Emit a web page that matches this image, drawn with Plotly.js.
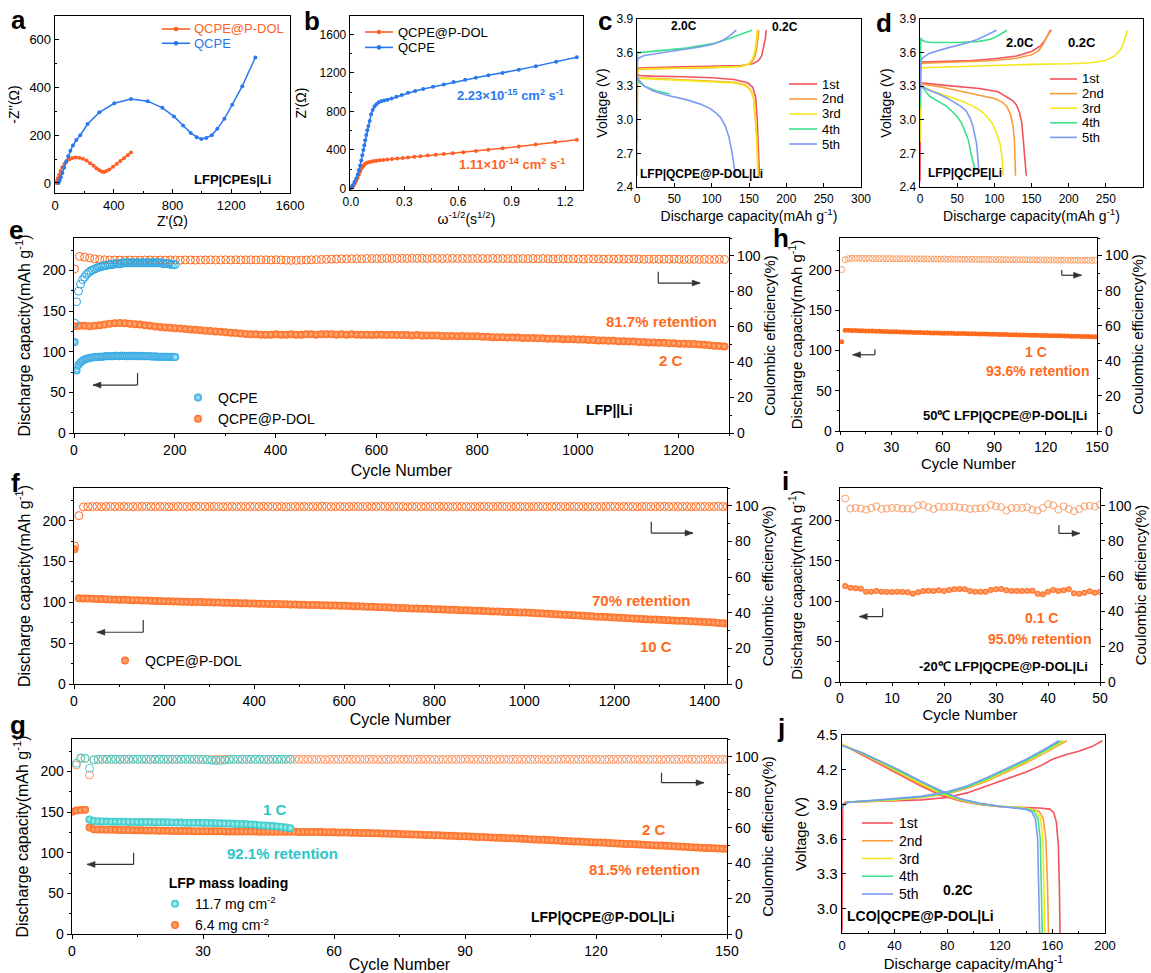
<!DOCTYPE html>
<html><head><meta charset="utf-8">
<script src="https://cdn.plot.ly/plotly-3.0.1.min.js"></script>
<style>html,body{margin:0;padding:0;background:#fff}#chart{width:1151px;height:973px}</style>
</head><body><div id="chart"></div>
<script>
// ================= DATA =================
// a: Nyquist plot
const aPdolZre = [10, 14, 20, 28, 38, 50, 64, 80, 98, 118, 140, 165, 190, 215, 240, 262, 282, 300, 318, 334, 350, 370, 395, 420, 445, 470, 495, 517];
const aPdolZim = [0, 8, 20, 34, 50, 66, 80, 92, 100, 105, 107, 106, 102, 94, 83, 72, 62, 54, 48, 46, 50, 57, 68, 80, 92, 104, 116, 128];
const aQcpeZre = [25, 32, 40, 50, 62, 75, 90, 105, 122, 145, 172, 222, 302, 404, 517, 631, 731, 810, 872, 924, 965, 996, 1030, 1067, 1105, 1153, 1207, 1275, 1364];
const aQcpeZim = [0, 10, 24, 42, 64, 88, 112, 135, 157, 180, 200, 247, 296, 334, 352, 343, 315, 279, 241, 210, 192, 184, 189, 200, 227, 269, 328, 406, 526];
// b: Z' vs omega^-1/2
const bPdolW = [0, 0.008, 0.015, 0.022, 0.03, 0.038, 0.045, 0.052, 0.06, 0.068, 0.076, 0.085, 0.095, 0.105, 0.117, 0.13, 0.145, 0.162, 0.182, 0.205, 0.23, 0.26, 0.29, 0.32, 0.355, 0.39, 0.43, 0.475, 0.52, 0.57, 0.63, 0.7, 0.77, 0.85, 0.94, 1.035, 1.145, 1.265];
const bPdolZ = [5, 15, 30, 52, 80, 112, 145, 178, 208, 232, 250, 262, 270, 276, 281, 285, 289, 293, 297, 301, 306, 311, 317, 323, 329, 336, 343, 351, 359, 367, 377, 390, 403, 418, 436, 458, 483, 505];
const bQcpeW = [0, 0.01, 0.02, 0.03, 0.038, 0.045, 0.052, 0.058, 0.064, 0.07, 0.075, 0.08, 0.086, 0.092, 0.098, 0.105, 0.113, 0.122, 0.132, 0.143, 0.156, 0.17, 0.186, 0.205, 0.228, 0.255, 0.285, 0.32, 0.36, 0.405, 0.46, 0.52, 0.575, 0.64, 0.7, 0.77, 0.849, 0.94, 1.036, 1.15, 1.265];
const bQcpeZ = [10, 35, 68, 105, 145, 190, 240, 290, 345, 400, 450, 500, 555, 605, 650, 700, 770, 815, 850, 875, 895, 905, 913, 922, 935, 952, 970, 993, 1012, 1032, 1055, 1080, 1105, 1128, 1150, 1175, 1200, 1232, 1270, 1315, 1362];
// cycle names / colours for voltage profiles
const cycleNames = ['1st', '2nd', '3rd', '4th', '5th'];
const cycleColors = ['#f4525c', '#f89c3a', '#f2e81c', '#3ee08c', '#7d9af2'];
// c: LFP|QCPE@P-DOL|Li
const cChgCap = [
  [0, 0.5, 2, 10, 50, 100, 140, 155, 163, 167, 170, 172, 173],
  [0, 0.5, 2, 10, 50, 100, 140, 152, 157, 160, 162, 163],
  [0, 0.5, 2, 10, 50, 100, 140, 150, 155, 158, 160, 161],
  [0, 0.5, 3, 10, 30, 66, 102, 124, 142, 154],
  [0, 0.5, 2, 10, 44, 80, 102, 115, 124, 133]];
const cChgV = [
  [2.5, 3.43, 3.46, 3.465, 3.47, 3.475, 3.485, 3.5, 3.53, 3.57, 3.65, 3.73, 3.8],
  [2.5, 3.42, 3.45, 3.455, 3.46, 3.465, 3.48, 3.5, 3.55, 3.62, 3.72, 3.8],
  [2.5, 3.42, 3.45, 3.455, 3.46, 3.465, 3.475, 3.5, 3.55, 3.62, 3.72, 3.8],
  [2.8, 3.6, 3.6, 3.605, 3.615, 3.64, 3.68, 3.725, 3.77, 3.8],
  [3.35, 3.52, 3.55, 3.575, 3.61, 3.645, 3.675, 3.71, 3.75, 3.8]];
const cDisCap = [
  [0, 1, 5, 20, 60, 100, 130, 148, 155, 159, 161, 162.5, 163.5, 164],
  [0, 1, 5, 20, 60, 100, 130, 145, 152, 156, 159, 161, 162, 162.5],
  [0, 1, 5, 20, 60, 100, 130, 145, 152, 156, 159, 160.5, 161.5, 162],
  [0, 2, 10, 25, 44],
  [0, 2, 10, 21, 40, 66, 85, 98, 106, 112, 118, 123, 127, 130, 132]];
const cDisV = [
  [3.42, 3.4, 3.395, 3.39, 3.385, 3.375, 3.36, 3.33, 3.29, 3.2, 3.0, 2.8, 2.6, 2.5],
  [3.4, 3.38, 3.375, 3.37, 3.36, 3.35, 3.335, 3.31, 3.27, 3.2, 3.0, 2.8, 2.6, 2.5],
  [3.39, 3.375, 3.37, 3.365, 3.355, 3.345, 3.33, 3.305, 3.265, 3.2, 3.0, 2.8, 2.6, 2.5],
  [3.37, 3.34, 3.3, 3.26, 3.23],
  [3.4, 3.36, 3.3, 3.26, 3.22, 3.18, 3.14, 3.1, 3.06, 3.02, 2.95, 2.85, 2.72, 2.6, 2.5]];
// d: LFP|QCPE|Li
const dChgCap = [
  [0, 1, 3, 30, 70, 100, 130, 150, 162, 168, 172, 175, 177],
  [0, 1, 3, 30, 70, 100, 130, 150, 160, 166, 170, 173, 175],
  [0, 1, 3, 50, 100, 150, 200, 230, 250, 262, 270, 275, 279],
  [0, 1, 3, 8, 20, 50, 80, 95, 105, 112, 117],
  [0, 1, 3, 13, 36, 63, 78, 90, 98, 103]];
const dChgV = [
  [2.45, 3.5, 3.515, 3.52, 3.53, 3.545, 3.57, 3.61, 3.66, 3.71, 3.76, 3.79, 3.8],
  [3.0, 3.49, 3.505, 3.51, 3.52, 3.53, 3.55, 3.58, 3.62, 3.68, 3.74, 3.78, 3.8],
  [2.8, 3.45, 3.465, 3.475, 3.485, 3.495, 3.5, 3.51, 3.53, 3.57, 3.63, 3.71, 3.8],
  [3.1, 3.73, 3.71, 3.695, 3.69, 3.69, 3.7, 3.72, 3.75, 3.78, 3.8],
  [3.2, 3.52, 3.55, 3.595, 3.64, 3.685, 3.72, 3.76, 3.785, 3.8]];
const dDisCap = [
  [0, 2, 30, 80, 105, 116, 125, 130, 134, 137, 140, 142, 143],
  [0, 2, 30, 60, 80, 100, 110, 117, 122, 125, 127, 128, 128.5],
  [0, 2, 15, 36, 55, 72, 82, 90, 97, 103, 108, 110.5, 112],
  [0, 2, 8, 13, 25, 36, 44, 50, 56, 61, 65, 68, 71, 74],
  [0, 2, 10, 22, 35, 45, 55, 62, 67, 71, 74, 76, 78, 79]];
const dDisV = [
  [3.34, 3.33, 3.31, 3.28, 3.25, 3.21, 3.17, 3.13, 3.06, 2.97, 2.76, 2.6, 2.5],
  [3.33, 3.32, 3.29, 3.25, 3.22, 3.19, 3.16, 3.12, 3.04, 2.95, 2.82, 2.65, 2.5],
  [3.32, 3.3, 3.26, 3.21, 3.17, 3.12, 3.08, 3.03, 2.97, 2.88, 2.78, 2.65, 2.5],
  [3.32, 3.3, 3.25, 3.21, 3.16, 3.12, 3.07, 3.03, 2.97, 2.89, 2.82, 2.72, 2.62, 2.55],
  [3.32, 3.3, 3.27, 3.24, 3.2, 3.16, 3.12, 3.08, 3.02, 2.95, 2.87, 2.79, 2.65, 2.55]];
// j: LCO|QCPE@P-DOL|Li
const jChgCap = [
  [0, 0.5, 3, 20, 40, 60, 80, 95, 110, 125, 140, 152, 160, 170, 180, 190, 198],
  [0, 1, 5, 20, 40, 60, 80, 95, 110, 125, 140, 155, 165, 171],
  [0, 1, 5, 20, 40, 60, 80, 95, 110, 125, 140, 155, 163, 169],
  [0, 1, 5, 20, 40, 60, 80, 95, 110, 125, 140, 155, 162, 167],
  [0, 1, 5, 20, 40, 60, 80, 95, 110, 125, 140, 153, 160, 165]];
const jChgV = [
  [2.8, 3.9, 3.92, 3.925, 3.93, 3.94, 3.96, 4.0, 4.06, 4.12, 4.18, 4.24, 4.29, 4.33, 4.36, 4.4, 4.45],
  [3.86, 3.89, 3.92, 3.93, 3.94, 3.96, 3.99, 4.04, 4.1, 4.18, 4.26, 4.35, 4.41, 4.45],
  [3.86, 3.89, 3.92, 3.93, 3.94, 3.96, 4.0, 4.05, 4.11, 4.19, 4.27, 4.36, 4.41, 4.45],
  [3.86, 3.89, 3.92, 3.93, 3.945, 3.965, 4.0, 4.05, 4.12, 4.2, 4.28, 4.37, 4.42, 4.45],
  [3.86, 3.89, 3.92, 3.935, 3.95, 3.97, 4.01, 4.06, 4.13, 4.21, 4.29, 4.37, 4.42, 4.45]];
const jDisCap = [
  [0, 5, 15, 30, 45, 60, 75, 90, 105, 120, 135, 150, 158, 161, 163, 164.5, 165.3, 165.8],
  [0, 5, 15, 30, 45, 60, 75, 90, 105, 120, 135, 145, 150, 153, 155, 156.3, 157],
  [0, 5, 15, 30, 45, 60, 75, 90, 105, 120, 135, 143, 148, 151, 152.8, 153.8, 154.3],
  [0, 5, 15, 30, 45, 60, 75, 90, 105, 120, 135, 141, 146, 149, 150.8, 151.8, 152.3],
  [0, 5, 15, 30, 45, 60, 75, 90, 105, 120, 132, 139, 144, 147, 148.8, 149.8, 150.3]];
const jDisV = [
  [4.42, 4.39, 4.33, 4.24, 4.15, 4.06, 3.98, 3.93, 3.9, 3.88, 3.875, 3.87, 3.86, 3.83, 3.75, 3.55, 3.2, 2.79],
  [4.42, 4.39, 4.34, 4.25, 4.16, 4.07, 3.99, 3.935, 3.9, 3.885, 3.875, 3.86, 3.84, 3.78, 3.6, 3.2, 2.79],
  [4.42, 4.395, 4.345, 4.26, 4.17, 4.08, 4.0, 3.94, 3.905, 3.885, 3.875, 3.86, 3.84, 3.78, 3.6, 3.2, 2.79],
  [4.41, 4.39, 4.345, 4.265, 4.18, 4.09, 4.01, 3.945, 3.905, 3.885, 3.87, 3.86, 3.84, 3.78, 3.6, 3.2, 2.79],
  [4.41, 4.39, 4.35, 4.27, 4.19, 4.1, 4.02, 3.95, 3.91, 3.885, 3.87, 3.86, 3.84, 3.78, 3.6, 3.2, 2.79]];

// e: LFP||Li at 2 C (sampled: QCPE every 4 cycles from 1, QCPE@P-DOL every 10 cycles from 1)
const eQcpeFirst = 1, eQcpeStep = 4;
const eQcpeCap = [112, 77, 84, 87, 89, 90.5, 91.5, 92, 92.5, 93, 93.5, 93.5, 94, 94, 94, 94.5, 94.5, 94.5, 94.5, 94.5,
  95, 95, 94.5, 95, 95, 95, 94.5, 95, 95, 94.5, 95, 94.5, 94.5, 95, 94.5, 94.5, 94.5, 94.5, 94.5, 94,
  94.5, 94, 94, 94, 94, 94, 94, 93.5, 94, 93.5, 93.5];
const eQcpeCE = [62, 74, 80, 84, 86.5, 88, 89.5, 90.5, 91.5, 92, 92.5, 93, 93.5, 94, 94, 94.5, 94.5, 95, 95, 95,
  95.5, 95.5, 95.5, 95.5, 96, 96, 96, 96, 96, 96, 96, 96, 96, 96, 96, 96, 96, 96, 96, 96,
  96, 96, 96, 96, 95.5, 95.5, 95.5, 95.5, 95, 95, 95];
const ePdolFirst = 1, ePdolStep = 10;
const ePdolCap = [131.5, 132, 132, 131.5, 132, 132.5, 133.5, 134.5, 135, 135.5,
  135, 134.5, 134, 133.5, 132.5, 132, 131, 130.5, 130, 129.5,
  129, 128.5, 128, 127.5, 127, 126.5, 126, 125.5, 125, 124.5,
  124, 123.5, 123, 122.5, 122, 121.5, 121.5, 121, 121, 121,
  121.5, 121, 121, 121.5, 121, 121, 121.5, 121.5, 121, 121.5,
  121.5, 121.5, 121, 121.5, 121, 121.5, 121, 121, 121, 120.5,
  121, 121, 120.5, 121, 120.5, 120.5, 120.5, 120, 120.5, 120,
  120, 120, 120, 119.5, 119.5, 119.5, 119, 119.5, 119, 119,
  119, 118.5, 118.5, 118, 118, 118, 117.5, 117.5, 117.5, 117,
  117, 117, 116.5, 116.5, 116, 116, 116, 115.5, 115.5, 115.5,
  115, 115, 114.5, 114.5, 114, 114, 113.5, 113.5, 113, 113,
  112.5, 112.5, 112, 112, 111.5, 111.5, 111, 111, 110.5, 110.5,
  110, 110, 109.5, 109.5, 109, 108.5, 108, 107.5, 107, 106.5];
const ePdolCE = [92.5, 99.6, 99.2, 98.7, 98.2, 97.8, 97.7, 97.6, 97.6, 97.5,
  97.5, 97.6, 97.5, 97.5, 97.6, 97.6, 97.5, 97.6, 97.5, 97.6,
  97.6, 97.5, 97.6, 97.6, 97.5, 97.6, 97.6, 97.7, 97.6, 97.6,
  97.7, 97.6, 97.7, 97.6, 97.7, 97.7, 97.6, 97.7, 97.7, 97.6,
  97.7, 97.6, 97.5, 97.4, 97.4, 97.5, 97.6, 97.7, 97.8, 97.9,
  98.0, 98.1, 98.1, 98.2, 98.2, 98.3, 98.3, 98.3, 98.4, 98.4,
  98.4, 98.4, 98.5, 98.4, 98.5, 98.5, 98.4, 98.5, 98.5, 98.5,
  98.4, 98.5, 98.5, 98.4, 98.5, 98.5, 98.4, 98.5, 98.4, 98.4,
  98.5, 98.4, 98.4, 98.5, 98.4, 98.4, 98.4, 98.3, 98.4, 98.4,
  98.3, 98.4, 98.3, 98.4, 98.3, 98.2, 98.3, 98.3, 98.2, 98.3,
  98.2, 98.2, 98.3, 98.2, 98.2, 98.1, 98.2, 98.1, 98.2, 98.1,
  98.1, 98.2, 98.1, 98.0, 98.1, 98.1, 98.0, 98.1, 98.0, 98.1,
  98.0, 97.9, 98.0, 98.0, 97.9, 98.0, 97.9, 97.9, 98.0, 97.9];

// f: 10 C long cycling (every 10 cycles from 1)
const fFirst = 1, fStep = 10;
const fCap = [165, 105.0, 104.8, 104.6, 104.4, 104.2, 104.0, 103.8, 103.6, 103.4,
  103.3, 103.1, 102.9, 102.7, 102.5, 102.3, 102.1, 101.9, 101.7, 101.5,
  101.4, 101.2, 101.1, 101.0, 100.8, 100.7, 100.5, 100.4, 100.3, 100.1,
  100.0, 99.8, 99.7, 99.5, 99.4, 99.3, 99.1, 99.0, 98.8, 98.7,
  98.6, 98.4, 98.3, 98.1, 98.0, 97.9, 97.7, 97.6, 97.4, 97.3,
  97.1, 97.0, 96.8, 96.7, 96.6, 96.4, 96.3, 96.1, 96.0, 95.8,
  95.7, 95.5, 95.3, 95.1, 94.9, 94.7, 94.5, 94.3, 94.1, 93.9,
  93.7, 93.5, 93.2, 93.0, 92.8, 92.6, 92.4, 92.2, 92.0, 91.8,
  91.6, 91.4, 91.2, 91.0, 90.8, 90.6, 90.4, 90.2, 90.0, 89.8,
  89.6, 89.3, 89.1, 88.9, 88.7, 88.5, 88.3, 88.1, 87.9, 87.7,
  87.5, 87.2, 86.9, 86.6, 86.3, 86.0, 85.6, 85.3, 85.0, 84.7,
  84.4, 84.1, 83.8, 83.5, 83.2, 82.9, 82.5, 82.2, 81.9, 81.6,
  81.3, 81.0, 80.8, 80.5, 80.2, 80.0, 79.7, 79.4, 79.1, 78.9,
  78.6, 78.3, 78.1, 77.8, 77.5, 77.3, 77.0, 76.7, 76.5, 76.2,
  76.0, 75.6, 75.2, 74.8, 74.4, 74.0];
const fCE = [77.5, 94.5, 99.4, 99.5, 99.6, 99.6, 99.5, 99.6, 99.6, 99.6,
  99.6, 99.6, 99.5, 99.6, 99.6, 99.6, 99.7, 99.6, 99.6, 99.6,
  99.6, 99.5, 99.6, 99.6, 99.6, 99.6, 99.6, 99.7, 99.6, 99.6,
  99.6, 99.6, 99.6, 99.5, 99.6, 99.6, 99.6, 99.6, 99.6, 99.6,
  99.6, 99.6, 99.7, 99.6, 99.6, 99.6, 99.6, 99.5, 99.6, 99.6,
  99.6, 99.6, 99.6, 99.6, 99.6, 99.7, 99.6, 99.6, 99.6, 99.6,
  99.5, 99.6, 99.6, 99.6, 99.6, 99.6, 99.6, 99.6, 99.7, 99.6,
  99.6, 99.6, 99.6, 99.6, 99.5, 99.6, 99.6, 99.6, 99.6, 99.6,
  99.6, 99.7, 99.6, 99.6, 99.6, 99.6, 99.6, 99.6, 99.5, 99.6,
  99.6, 99.6, 99.6, 99.6, 99.7, 99.6, 99.6, 99.6, 99.6, 99.6,
  99.6, 99.5, 99.6, 99.6, 99.6, 99.6, 99.6, 99.7, 99.6, 99.6,
  99.6, 99.6, 99.6, 99.6, 99.5, 99.6, 99.6, 99.6, 99.6, 99.7,
  99.6, 99.6, 99.6, 99.6, 99.6, 99.5, 99.6, 99.6, 99.6, 99.6,
  99.6, 99.7, 99.6, 99.6, 99.6, 99.6, 99.6, 99.5, 99.6, 99.6,
  99.6, 99.6, 99.6, 99.7, 99.6, 99.6];

// g: mass loading comparison (every cycle)
const gLowFirst = 0;
const gLowCap = [150.5, 152, 152.5, 153,
  131.0, 129.0, 128.7, 128.5, 128.4, 128.3, 128.2, 128.1, 128.0, 127.9,
  127.8, 127.7, 127.6, 127.5, 127.4, 127.3, 127.2, 127.1, 127.0, 126.9,
  126.9, 126.8, 126.7, 126.7, 126.6, 126.5, 126.5, 126.5, 126.4, 126.4,
  126.4, 126.3, 126.3, 126.3, 126.2, 126.2, 126.2, 126.1, 126.1, 126.0,
  126.0, 126.0, 125.9, 125.9, 125.8, 125.8, 125.7, 125.7, 125.6, 125.6,
  125.5, 125.5, 125.4, 125.4, 125.3, 125.2, 125.1, 125.0, 124.9, 124.8,
  124.7, 124.6, 124.4, 124.3, 124.2, 124.0, 123.9, 123.7, 123.6, 123.4,
  123.3, 123.1, 122.9, 122.8, 122.6, 122.4, 122.2, 122.0, 121.8, 121.6,
  121.4, 121.2, 121.0, 120.8, 120.6, 120.4, 120.2, 120.0, 119.8, 119.5,
  119.3, 119.1, 118.9, 118.6, 118.4, 118.2, 117.9, 117.7, 117.4, 117.2,
  116.9, 116.6, 116.4, 116.1, 115.9, 115.6, 115.3, 115.1, 114.8, 114.6,
  114.3, 114.0, 113.8, 113.5, 113.3, 113.0, 112.7, 112.5, 112.2, 112.0,
  111.7, 111.4, 111.2, 110.9, 110.7, 110.4, 110.1, 109.8, 109.6, 109.3,
  109.0, 108.8, 108.5, 108.2, 108.0, 107.7, 107.4, 107.1, 106.9, 106.6,
  106.3, 106.0, 105.8, 105.5, 105.2, 105.0, 104.8];
const gLowCE = [95.3, 99.0, 99.0, 89.7, 98.2, 98.4, 98.5, 98.5, 98.5, 98.5,
  98.5, 98.5, 98.5, 98.6, 98.5, 98.5, 98.5, 98.5, 98.4, 98.5,
  98.5, 98.5, 98.5, 98.5, 98.5, 98.6, 98.5, 98.5, 98.5, 98.5,
  98.5, 98.4, 98.5, 98.5, 98.6, 98.5, 98.5, 98.5, 98.5, 98.5,
  98.5, 98.5, 98.5, 98.5, 98.4, 98.5, 98.5, 98.5, 98.5, 98.6,
  98.5, 98.5, 98.5, 98.5, 98.5, 98.5, 98.5, 98.4, 98.5, 98.5,
  98.5, 98.5, 98.6, 98.5, 98.5, 98.5, 98.5, 98.5, 98.5, 98.5,
  98.4, 98.5, 98.5, 98.5, 98.5, 98.5, 98.6, 98.5, 98.5, 98.5,
  98.5, 98.5, 98.5, 98.4, 98.5, 98.5, 98.5, 98.5, 98.5, 98.6,
  98.5, 98.5, 98.5, 98.5, 98.5, 98.5, 98.4, 98.5, 98.6, 98.5,
  98.5, 98.5, 98.5, 98.5, 98.5, 98.5, 98.5, 98.5, 98.4, 98.5,
  98.5, 98.5, 98.6, 98.5, 98.5, 98.5, 98.5, 98.5, 98.5, 98.5,
  98.5, 98.4, 98.5, 98.5, 98.5, 98.5, 98.6, 98.5, 98.5, 98.5,
  98.5, 98.5, 98.5, 98.5, 98.4, 98.5, 98.5, 98.5, 98.5, 98.5,
  98.6, 98.5, 98.5, 98.5, 98.5, 98.5, 98.5, 98.4, 98.5, 98.5];
const gHighFirst = 4;
const gHighCap = [141, 139, 138.7, 138.5, 138.4, 138.3, 138.3, 138.2, 138.1, 138,
  138, 137.9, 137.8, 137.8, 137.7, 137.6, 137.5, 137.5, 137.4, 137.3,
  137.2, 137.1, 137, 137, 136.9, 136.8, 136.7, 136.6, 136.5, 136.4,
  136.2, 136, 135.9, 135.7, 135.5, 135.3, 135.0, 134.7, 134.4, 134.0,
  133.6, 133.2, 132.8, 132.3, 131.8, 131.0, 130.2];
const gHighCE = [96.3, 99.4, 99.1, 93.5, 98.4, 98.6, 98.6, 98.6, 98.6, 98.6,
  98.6, 98.6, 98.6, 98.6, 98.6, 98.6, 98.6, 98.6, 98.6, 98.6,
  98.6, 98.6, 98.6, 98.6, 98.6, 98.6, 98.6, 98.6, 98.6, 98.5,
  98.3, 98.0, 97.8, 97.9, 98.1, 98.4, 98.6, 98.6, 98.6, 98.6,
  98.6, 98.6, 98.6, 98.5, 98.5, 98.6, 98.6, 98.6, 98.6, 98.6];

// h: 50 °C, 1 C (every 2 cycles from 1)
const hFirst = 1, hStep = 2;
const hCap = [111, 125.4, 125.2, 125.0, 124.9, 124.8, 124.6, 124.5, 124.3, 124.2,
  124.1, 123.9, 123.8, 123.7, 123.5, 123.4, 123.3, 123.1, 123.0, 122.9,
  122.8, 122.6, 122.5, 122.4, 122.2, 122.1, 122.0, 121.9, 121.8, 121.7,
  121.6, 121.5, 121.4, 121.3, 121.2, 121.2, 121.1, 121.0, 120.9, 120.8,
  120.7, 120.6, 120.5, 120.4, 120.3, 120.2, 120.1, 120.0, 119.9, 119.8,
  119.7, 119.6, 119.5, 119.4, 119.3, 119.2, 119.1, 119.0, 118.9, 118.8,
  118.7, 118.6, 118.5, 118.4, 118.3, 118.2, 118.0, 117.9, 117.8, 117.7,
  117.6, 117.5, 117.4, 117.3, 117.2];
const hCE = [92.0, 97.6, 98.2, 98.4, 98.4, 98.4, 98.4, 98.3, 98.4, 98.3,
  98.3, 98.3, 98.3, 98.2, 98.3, 98.2, 98.2, 98.2, 98.2, 98.1,
  98.2, 98.1, 98.1, 98.1, 98.1, 98.0, 98.1, 98.0, 98.0, 98.0,
  98.0, 97.9, 98.0, 97.9, 97.9, 97.9, 97.9, 97.8, 97.9, 97.8,
  97.8, 97.8, 97.8, 97.7, 97.8, 97.7, 97.7, 97.7, 97.7, 97.6,
  97.7, 97.6, 97.6, 97.6, 97.6, 97.5, 97.6, 97.5, 97.5, 97.5,
  97.5, 97.4, 97.5, 97.4, 97.4, 97.4, 97.4, 97.3, 97.4, 97.3,
  97.3, 97.3, 97.3, 97.2, 97.3];

// i: -20 °C, 0.1 C (every cycle from 1)
const iFirst = 1;
const iCap = [118.8, 116.7, 115.9, 115.5, 111.8, 111.8, 112.6, 111.8, 111.3, 111.3,
  111.8, 111.3, 110.9, 109.3, 110.9, 112.6, 113.0, 112.6, 113.4, 112.6,
  113.8, 114.6, 115.1, 114.6, 112.6, 111.8, 111.8, 111.8, 113.8, 114.6,
  115.1, 113.4, 112.6, 112.6, 112.6, 112.6, 113.0, 109.3, 108.5, 111.8,
  113.8, 112.6, 113.4, 114.6, 109.7, 109.3, 110.5, 112.2, 110.5, 111.8];
const iCE = [104.0, 98.3, 98.7, 98.3, 97.7, 98.7, 99.6, 98.1, 98.3, 98.7,
  98.7, 98.3, 98.3, 98.1, 100.2, 100.4, 99.1, 98.1, 99.4, 99.2,
  99.2, 99.6, 98.9, 98.7, 98.1, 98.3, 98.5, 98.7, 100.4, 99.6,
  99.2, 97.2, 98.7, 98.7, 98.7, 99.1, 97.7, 97.2, 98.7, 100.9,
  100.2, 97.7, 99.6, 98.1, 96.8, 98.1, 99.6, 100.0, 99.4, 100.6];

// ================= STYLE / LAYOUT =================
const W = 1151, H = 973;
const F = '"Liberation Sans", Arial, Helvetica, sans-serif';
const ORG_AB = '#ff5f26', BLU_AB = '#2a78ee';
const ORG = '#ff6a1c', ORG_HI = '#ffb48a', ORG_L = '#f9a06a';
const BLU_E = '#2aa5e2', BLU_HI = '#c4ecff';
const TEAL = '#2cc6c6', TEAL_HI = '#bff3f3', TEAL_L = '#45d2d2';
const ORG_G = '#f99360';

function xdom(a, b) { return [a / W, b / W]; }
function ydom(t, b) { return [1 - b / H, 1 - t / H]; }
function T(text, size, standoff) { return {text: text, font: {family: F, size: size, color: '#000'}, standoff: standoff}; }
function ax(o) {
  return Object.assign({showline: true, linecolor: '#000', linewidth: 1.3, mirror: true, ticks: 'outside', ticklen: 4,
    tickwidth: 1, tickcolor: '#000', showgrid: false, zeroline: false, automargin: false,
    tickfont: {family: F, size: 13, color: '#000'}}, o);
}
// row-1 panels: ticks pointing inwards
function axIn(o) { return ax(Object.assign({ticks: 'inside'}, o)); }
function rax(o) {
  return Object.assign({showline: true, linecolor: '#000', linewidth: 1.3, side: 'right', ticks: 'outside', ticklen: 4,
    tickwidth: 1, tickcolor: '#000', showgrid: false, zeroline: false, automargin: false, range: [0, 110], dtick: 20,
    minor: {ticks: 'outside', ticklen: 2, dtick: 10, tickcolor: '#000'},
    tickfont: {family: F, size: 14, color: '#000'}}, o);
}

const traces = [];
// a
traces.push({x: aPdolZre, y: aPdolZim, xaxis: 'x', yaxis: 'y', mode: 'lines+markers', line: {color: ORG_AB, width: 1.5}, marker: {size: 4, color: ORG_AB}, showlegend: false});
traces.push({x: aQcpeZre, y: aQcpeZim, xaxis: 'x', yaxis: 'y', mode: 'lines+markers', line: {color: BLU_AB, width: 1.5}, marker: {size: 4, color: BLU_AB}, showlegend: false});
// b
traces.push({x: bPdolW, y: bPdolZ, xaxis: 'x2', yaxis: 'y2', mode: 'lines+markers', line: {color: ORG_AB, width: 1.5}, marker: {size: 4, color: ORG_AB}, showlegend: false});
traces.push({x: bQcpeW, y: bQcpeZ, xaxis: 'x2', yaxis: 'y2', mode: 'lines+markers', line: {color: BLU_AB, width: 1.5}, marker: {size: 4, color: BLU_AB}, showlegend: false});
// c, d, j voltage profiles
function profile(chgX, chgY, disX, disY, xa, ya) {
  for (let i = 0; i < cycleNames.length; i++) {
    traces.push({x: chgX[i].concat([null], disX[i]), y: chgY[i].concat([null], disY[i]), xaxis: xa, yaxis: ya,
      mode: 'lines', line: {color: cycleColors[i], width: 1.6}, connectgaps: false, name: cycleNames[i], showlegend: false});
  }
}
profile(cChgCap, cChgV, cDisCap, cDisV, 'x3', 'y3');
profile(dChgCap, dChgV, dDisCap, dDisV, 'x4', 'y4');
profile(jChgCap, jChgV, jDisCap, jDisV, 'x10', 'y15');
// e
function sphere(c, hi, s) { return {color: c, size: s, gradient: {type: 'radial', color: hi}, line: {width: 0}}; }
function ring(c, s) { return {symbol: 'circle-open', color: c, size: s, line: {width: 1, color: c}}; }
traces.push({y: ePdolCE, x0: ePdolFirst, dx: ePdolStep, xaxis: 'x5', yaxis: 'y6', mode: 'markers', marker: ring(ORG, 8), showlegend: false});
traces.push({y: eQcpeCE, x0: eQcpeFirst, dx: eQcpeStep, xaxis: 'x5', yaxis: 'y6', mode: 'markers', marker: ring(BLU_E, 8), showlegend: false});
traces.push({y: eQcpeCap, x0: eQcpeFirst, dx: eQcpeStep, xaxis: 'x5', yaxis: 'y5', mode: 'markers', marker: sphere(BLU_E, BLU_HI, 8), name: 'QCPE', legend: 'legend'});
traces.push({y: ePdolCap, x0: ePdolFirst, dx: ePdolStep, xaxis: 'x5', yaxis: 'y5', mode: 'markers', marker: sphere(ORG, ORG_HI, 8), name: 'QCPE@P-DOL', legend: 'legend'});
// f
traces.push({y: fCE, x0: fFirst, dx: fStep, xaxis: 'x6', yaxis: 'y8', mode: 'markers', marker: ring(ORG, 8), showlegend: false});
traces.push({y: fCap, x0: fFirst, dx: fStep, xaxis: 'x6', yaxis: 'y7', mode: 'markers', marker: sphere(ORG, ORG_HI, 8), name: 'QCPE@P-DOL', legend: 'legend2'});
// g
traces.push({y: gLowCE, x0: 1, dx: 1, xaxis: 'x7', yaxis: 'y10', mode: 'markers', marker: ring(ORG_G, 8), showlegend: false});
traces.push({y: gLowCap, x0: gLowFirst, dx: 1, xaxis: 'x7', yaxis: 'y9', mode: 'markers', marker: sphere(ORG, ORG_HI, 8), name: '6.4 mg cm<sup>-2</sup>', legend: 'legend3', legendrank: 2});
traces.push({y: gHighCE, x0: 1, dx: 1, xaxis: 'x7', yaxis: 'y10', mode: 'markers', marker: ring(TEAL_L, 8), showlegend: false});
traces.push({y: gHighCap, x0: gHighFirst, dx: 1, xaxis: 'x7', yaxis: 'y9', mode: 'markers', marker: sphere(TEAL, TEAL_HI, 8), name: '11.7 mg cm<sup>-2</sup>', legend: 'legend3', legendrank: 1});
// h
traces.push({y: hCE, x0: hFirst, dx: hStep, xaxis: 'x8', yaxis: 'y12', mode: 'markers', marker: ring(ORG_L, 6), showlegend: false});
traces.push({y: hCap, x0: hFirst, dx: hStep, xaxis: 'x8', yaxis: 'y11', mode: 'markers', marker: {color: ORG, size: 5}, showlegend: false});
// i
traces.push({y: iCE, x0: iFirst, dx: 1, xaxis: 'x9', yaxis: 'y14', mode: 'markers', marker: ring(ORG_L, 7), showlegend: false});
traces.push({y: iCap, x0: iFirst, dx: 1, xaxis: 'x9', yaxis: 'y13', mode: 'markers', marker: sphere(ORG, ORG_HI, 6), showlegend: false});

const annotations = [];
const shapes = [];
function letter(t, x, y) {
  annotations.push({text: '<b>' + t + '</b>', xref: 'paper', yref: 'paper', x: x / W, y: 1 - y / H, showarrow: false,
    xanchor: 'center', yanchor: 'middle', font: {family: F, size: 26, color: '#000'}});
}
letter('a', 18, 20); letter('b', 312, 21); letter('c', 605, 21); letter('d', 884, 23);
letter('e', 16, 230); letter('h', 781, 238); letter('f', 16, 483); letter('i', 785, 481);
letter('g', 18, 725); letter('j', 781, 728);

function note(xr, yr, x, y, text, size, color) {
  annotations.push({xref: xr + ' domain', yref: yr + ' domain', x: x, y: y, text: '<b>' + text + '</b>', showarrow: false,
    xanchor: 'center', yanchor: 'middle', font: {family: F, size: size, color: color || '#000'}});
}
note('x', 'y', 0.757, 0.079, 'LFP|CPEs|Li', 13);
note('x2', 'y2', 0.69, 0.546, '2.23×10<sup>-15</sup> cm<sup>2</sup> s<sup>-1</sup>', 13, BLU_AB);
note('x2', 'y2', 0.695, 0.149, '1.11×10<sup>-14</sup> cm<sup>2</sup> s<sup>-1</sup>', 13, ORG_AB);
note('x3', 'y3', 0.21, 0.958, '2.0C', 12); note('x3', 'y3', 0.661, 0.95, '0.2C', 12);
note('x3', 'y3', 0.289, 0.077, 'LFP|QCPE@P-DOL|Li', 12);
note('x4', 'y4', 0.448, 0.861, '2.0C', 13); note('x4', 'y4', 0.725, 0.861, '0.2C', 13);
note('x4', 'y4', 0.202, 0.082, 'LFP|QCPE|Li', 12);
note('x5', 'y5', 0.897, 0.574, '81.7% retention', 15, ORG); note('x5', 'y5', 0.912, 0.371, '2 C', 15, ORG);
note('x5', 'y5', 0.818, 0.118, 'LFP||Li', 14);
note('x6', 'y7', 0.868, 0.425, '70% retention', 15, ORG); note('x6', 'y7', 0.892, 0.19, '10 C', 15, ORG);
note('x7', 'y9', 0.31, 0.639, '1 C', 15, TEAL); note('x7', 'y9', 0.322, 0.414, '92.1% retention', 15, TEAL);
note('x7', 'y9', 0.889, 0.537, '2 C', 15, ORG); note('x7', 'y9', 0.874, 0.333, '81.5% retention', 15, ORG);
note('x7', 'y9', 0.811, 0.089, 'LFP|QCPE@P-DOL|Li', 14);
note('x8', 'y11', 0.763, 0.411, '1 C', 14, ORG); note('x8', 'y11', 0.769, 0.312, '93.6% retention', 14, ORG);
note('x8', 'y11', 0.642, 0.078, '50℃ LFP|QCPE@P-DOL|Li', 13);
note('x9', 'y13', 0.776, 0.328, '0.1 C', 14, ORG); note('x9', 'y13', 0.769, 0.22, '95.0% retention', 14, ORG);
note('x9', 'y13', 0.628, 0.079, '-20℃ LFP|QCPE@P-DOL|Li', 13);
note('x10', 'y15', 0.442, 0.217, '0.2C', 14); note('x10', 'y15', 0.297, 0.087, 'LCO|QCPE@P-DOL|Li', 14);

// L-shaped axis pointers (lines + triangular heads)
function pointer(xr, yr, pxW, pxH, cx, top, bot, tip) {
  const xa = xr + ' domain', ya = yr + ' domain';
  const st = {color: '#333', width: 1.2};
  shapes.push({type: 'line', xref: xa, yref: ya, x0: cx, x1: cx, y0: top, y1: bot, line: st});
  shapes.push({type: 'line', xref: xa, yref: ya, x0: cx, x1: tip, y0: bot, y1: bot, line: st});
  const dir = cx > tip ? 1 : -1;
  const bx = tip + dir * 8 / pxW, hy = 3 / pxH;
  shapes.push({type: 'path', xref: xa, yref: ya, path: 'M ' + tip + ',' + bot + ' L ' + bx + ',' + (bot + hy) + ' L ' + bx + ',' + (bot - hy) + ' Z',
    fillcolor: '#333', line: {color: '#333', width: 0.5}});
}
pointer('x5', 'y5', 655, 195, 0.097, 0.308, 0.246, 0.029); pointer('x5', 'y5', 655, 195, 0.892, 0.827, 0.769, 0.956);
pointer('x6', 'y7', 653, 196, 0.106, 0.327, 0.264, 0.035); pointer('x6', 'y7', 653, 196, 0.884, 0.828, 0.770, 0.948);
pointer('x7', 'y9', 655, 195, 0.094, 0.417, 0.357, 0.023); pointer('x7', 'y9', 655, 195, 0.900, 0.827, 0.776, 0.965);
pointer('x8', 'y11', 257, 193, 0.136, 0.423, 0.395, 0.049); pointer('x8', 'y11', 257, 193, 0.863, 0.834, 0.807, 0.940);
pointer('x9', 'y13', 260, 194, 0.164, 0.380, 0.337, 0.074); pointer('x9', 'y13', 260, 194, 0.842, 0.809, 0.766, 0.923);

// compact line legends (panels a-d, j)
function lineLegend(names, colors, lx0, lx1, tx, y0, step, size, withMarker, colorText) {
  names.forEach(function (n, i) {
    const y = 1 - (y0 + i * step) / H;
    shapes.push({type: 'line', xref: 'paper', yref: 'paper', x0: lx0 / W, x1: lx1 / W, y0: y, y1: y, line: {color: colors[i], width: 1.6}});
    if (withMarker) shapes.push({type: 'circle', xref: 'paper', yref: 'paper', xsizemode: 'pixel', ysizemode: 'pixel',
      xanchor: (lx0 + lx1) / 2 / W, yanchor: y, x0: -2.3, x1: 2.3, y0: -2.3, y1: 2.3, fillcolor: colors[i], line: {width: 0}});
    annotations.push({xref: 'paper', yref: 'paper', x: tx / W, y: y, xanchor: 'left', yanchor: 'middle', text: n, showarrow: false,
      font: {family: F, size: size, color: colorText ? colors[i] : '#000'}});
  });
}
lineLegend(['QCPE@P-DOL', 'QCPE'], [ORG_AB, BLU_AB], 162, 190, 192, 29, 14.3, 13, true, true);
lineLegend(['QCPE@P-DOL', 'QCPE'], [ORG_AB, BLU_AB], 365, 393, 396, 32, 15.4, 13, true, false);
lineLegend(cycleNames, cycleColors, 789, 817, 820, 84, 15, 13, false, false);
lineLegend(cycleNames, cycleColors, 1050, 1077, 1080, 79, 14.6, 13, false, false);
lineLegend(cycleNames, cycleColors, 862, 893, 897, 823, 17.75, 14, false, false);

const legBase = {bgcolor: 'rgba(0,0,0,0)', borderwidth: 0, xanchor: 'left', yanchor: 'top', tracegroupgap: 0,
  font: {family: F, size: 14, color: '#000'}};

const layout = {
  width: W, height: H, margin: {l: 0, r: 0, t: 0, b: 0}, paper_bgcolor: '#fff', plot_bgcolor: 'rgba(0,0,0,0)',
  font: {family: F, color: '#000'}, hovermode: false, showlegend: true,
  legend: Object.assign({}, legBase, {x: 178 / W, y: 1 - 382 / H}),
  legend2: Object.assign({}, legBase, {x: 105 / W, y: 1 - 645 / H}),
  legend3: Object.assign({}, legBase, {x: 155 / W, y: 1 - 870 / H, title: {text: '\u00a0\u00a0\u00a0<b>LFP mass loading</b>', font: {family: F, size: 14, color: '#000'}}}),
  // a
  xaxis: axIn({domain: xdom(55, 290), anchor: 'y', range: [0, 1600], dtick: 400, minor: {ticks: 'inside', ticklen: 2, dtick: 200}, title: T("Z'(Ω)", 14, 0)}),
  yaxis: axIn({domain: ydom(16, 193), anchor: 'x', range: [-42, 700], tickvals: [0, 200, 400, 600], minor: {ticks: 'inside', ticklen: 2, dtick: 100}, title: T("-Z''(Ω)", 14, 6)}),
  // b
  xaxis2: axIn({domain: xdom(350, 583), anchor: 'y2', range: [-0.005, 1.3], dtick: 0.3, tickformat: '.1f', tickfont: {family: F, size: 12, color: '#000'}, minor: {ticks: 'inside', ticklen: 2, dtick: 0.15}, title: T('ω<sup>-1/2</sup>(s<sup>1/2</sup>)', 14, 0)}),
  yaxis2: axIn({domain: ydom(16, 190), anchor: 'x2', range: [-15, 1790], dtick: 400, tickfont: {family: F, size: 12, color: '#000'}, minor: {ticks: 'inside', ticklen: 2, dtick: 200}, title: T("Z'(Ω)", 14, 9)}),
  // c
  xaxis3: axIn({domain: xdom(637, 861), anchor: 'y3', range: [0, 300], dtick: 50, tickfont: {family: F, size: 12, color: '#000'}, title: T('Discharge capacity(mAh g<sup>-1</sup>)', 14, 0)}),
  yaxis3: axIn({domain: ydom(19, 187), anchor: 'x3', range: [2.4, 3.9], dtick: 0.3, tickformat: '.1f', tickfont: {family: F, size: 12, color: '#000'}, title: T('Voltage (V)', 14, 5)}),
  // d
  xaxis4: axIn({domain: xdom(920, 1143), anchor: 'y4', range: [0, 300], dtick: 50, tickfont: {family: F, size: 12, color: '#000'}, title: T('Discharge capacity(mAh g<sup>-1</sup>)', 14, 0)}),
  yaxis4: axIn({domain: ydom(19, 187), anchor: 'x4', range: [2.4, 3.9], dtick: 0.3, tickformat: '.1f', tickfont: {family: F, size: 12, color: '#000'}, title: T('Voltage (V)', 14, 4)}),
  // e
  xaxis5: ax({domain: xdom(74, 729), anchor: 'y5', range: [0, 1300], dtick: 200, tickfont: {family: F, size: 14, color: '#000'}, minor: {ticks: 'outside', ticklen: 2, dtick: 100}, title: T('Cycle Number', 16, 7)}),
  yaxis5: ax({domain: ydom(238, 433), anchor: 'x5', range: [0, 240], dtick: 50, tickfont: {family: F, size: 14, color: '#000'}, minor: {ticks: 'outside', ticklen: 2, dtick: 25}, title: T('Discharge capacity(mAh g<sup>-1</sup>)', 16, 8)}),
  yaxis6: rax({overlaying: 'y5', anchor: 'x5', title: T('Coulombic efficiency(%)', 15, 4)}),
  // f
  xaxis6: ax({domain: xdom(74, 727), anchor: 'y7', range: [0, 1450], dtick: 200, tickfont: {family: F, size: 14, color: '#000'}, minor: {ticks: 'outside', ticklen: 2, dtick: 100}, title: T('Cycle Number', 16, 5)}),
  yaxis7: ax({domain: ydom(488, 684), anchor: 'x6', range: [0, 240], dtick: 50, tickfont: {family: F, size: 14, color: '#000'}, minor: {ticks: 'outside', ticklen: 2, dtick: 25}, title: T('Discharge capacity(mAh g<sup>-1</sup>)', 16, 8)}),
  yaxis8: rax({overlaying: 'y7', anchor: 'x6', title: T('Coulombic efficiency(%)', 15, 4)}),
  // g
  xaxis7: ax({domain: xdom(72, 727), anchor: 'y9', range: [0, 150], dtick: 30, tickfont: {family: F, size: 14, color: '#000'}, minor: {ticks: 'outside', ticklen: 2, dtick: 15}, title: T('Cycle Number', 16, 3)}),
  yaxis9: ax({domain: ydom(739, 934), anchor: 'x7', range: [0, 240], dtick: 50, tickfont: {family: F, size: 14, color: '#000'}, minor: {ticks: 'outside', ticklen: 2, dtick: 25}, title: T('Discharge capacity(mAh g<sup>-1</sup>)', 16, 8)}),
  yaxis10: rax({overlaying: 'y9', anchor: 'x7', title: T('Coulombic efficiency(%)', 15, 4)}),
  // h
  xaxis8: ax({domain: xdom(840, 1097), anchor: 'y11', range: [0, 150], dtick: 30, ticklen: 3, tickfont: {family: F, size: 14, color: '#000'}, minor: {ticks: 'outside', ticklen: 2, dtick: 15}, title: T('Cycle Number', 15, 2)}),
  yaxis11: ax({domain: ydom(238, 431), anchor: 'x8', range: [0, 240], dtick: 50, tickfont: {family: F, size: 14, color: '#000'}, minor: {ticks: 'outside', ticklen: 2, dtick: 25}, title: T('Discharge capacity(mAh g<sup>-1</sup>)', 15, 2)}),
  yaxis12: rax({overlaying: 'y11', anchor: 'x8', title: T('Coulombic efficiency(%)', 15, 1)}),
  // i
  xaxis9: ax({domain: xdom(840, 1100), anchor: 'y13', range: [0, 50], dtick: 10, ticklen: 3, tickfont: {family: F, size: 14, color: '#000'}, minor: {ticks: 'outside', ticklen: 2, dtick: 5}, title: T('Cycle Number', 15, 3)}),
  yaxis13: ax({domain: ydom(488, 682), anchor: 'x9', range: [0, 240], dtick: 50, tickfont: {family: F, size: 14, color: '#000'}, minor: {ticks: 'outside', ticklen: 2, dtick: 25}, title: T('Discharge capacity(mAh g<sup>-1</sup>)', 15, 2)}),
  yaxis14: rax({overlaying: 'y13', anchor: 'x9', title: T('Coulombic efficiency(%)', 15, 1)}),
  // j
  xaxis10: axIn({domain: xdom(842, 1105), anchor: 'y15', range: [0, 200], dtick: 40, tickfont: {family: F, size: 13, color: '#000'}, minor: {ticks: 'inside', ticklen: 2, dtick: 20}, title: T('Discharge capacity/mAhg<sup>-1</sup>', 15, 3)}),
  yaxis15: axIn({domain: ydom(735, 933), anchor: 'x10', range: [2.79, 4.5], tickvals: [3.0, 3.3, 3.6, 3.9, 4.2, 4.5], tickformat: '.1f', tickfont: {family: F, size: 15, color: '#000'}, title: T('Voltage (V)', 15, 6)}),
  annotations: annotations,
  shapes: shapes
};

Plotly.newPlot('chart', traces, layout, {staticPlot: true, displayModeBar: false});
</script></body></html>
